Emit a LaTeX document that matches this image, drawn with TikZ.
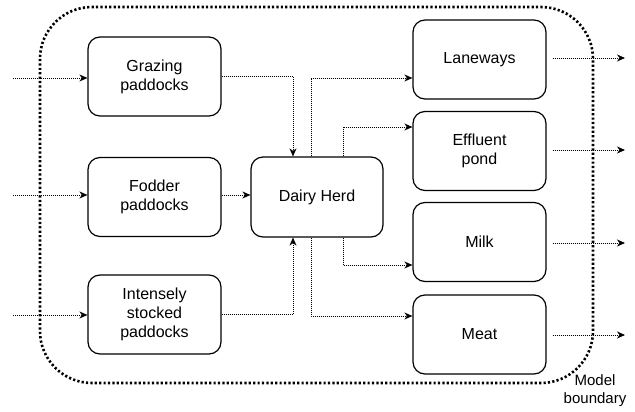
\documentclass[tikz,border=0pt]{standalone}
\usepackage{fontspec}
\setmainfont{Liberation Sans}
\usetikzlibrary{arrows.meta}
\begin{document}
\begin{tikzpicture}[x=1pt,y=-1pt,
  box/.style={draw,line width=1.2pt,rounded corners=12pt,minimum width=133pt,minimum height=79pt,align=center,inner sep=0pt,font=\fontsize{16pt}{19.2pt}\selectfont},
  arr/.style={line width=0.9pt,dash pattern=on 1pt off 1pt,-{Stealth[length=8pt,width=7pt,inset=2.5pt]}},
  bound/.style={line width=2.6pt,dash pattern=on 2.2pt off 2.2pt,rounded corners=52pt}]
\useasboundingbox (0,0) rectangle (635,412);
\draw[bound] (40,7) rectangle (593,383);
\node[box] (graz) at (154.5,76.5) {Grazing\\paddocks};
\node[box] (fodd) at (154.5,197) {Fodder\\paddocks};
\node[box] (inte) at (154.5,314.5) {Intensely\\stocked\\paddocks};
\node[box,minimum width=132pt,minimum height=80pt] (dairy) at (317,197) {Dairy Herd};
\node[box] (lane) at (479.5,59.5) {Laneways};
\node[box] (effl) at (479.5,151) {Effluent\\pond};
\node[box] (milk) at (479.5,242) {Milk};
\node[box] (meat) at (479.5,334.5) {Meat};
\node[align=center,font=\fontsize{15pt}{18pt}\selectfont,inner sep=0pt] (lbl) at (595,391) {Model\\boundary};
% inputs
\coordinate (i1) at (13,78);
\coordinate (i2) at (13,195);
\coordinate (i3) at (13,315);
\draw[arr] (i1) -- (graz.west |- i1);
\draw[arr] (i2) -- (fodd.west |- i2);
\draw[arr] (i3) -- (inte.west |- i3);
% to dairy
\draw[arr] (graz.east) -| ([xshift=-24pt]dairy.north);
\draw[arr] (fodd.east |- i2) -- (dairy.west |- i2);
\draw[arr] (inte.east) -| ([xshift=-24pt]dairy.south);
% from dairy
\draw[arr] ([xshift=-6pt]dairy.north) |- ([yshift=-18.5pt]lane.west);
\draw[arr] ([xshift=26pt]dairy.north) |- ([yshift=24pt]effl.west);
\draw[arr] ([xshift=26pt]dairy.south) |- ([yshift=-23pt]milk.west);
\draw[arr] ([xshift=-6pt]dairy.south) |- ([yshift=18.5pt]meat.west);
% outputs
\coordinate (o1) at (625,58);
\coordinate (o2) at (625,150);
\coordinate (o3) at (625,243);
\coordinate (o4) at (625,335);
\draw[arr] ([xshift=6pt]lane.east |- o1) -- (o1);
\draw[arr] ([xshift=6pt]effl.east |- o2) -- (o2);
\draw[arr] ([xshift=6pt]milk.east |- o3) -- (o3);
\draw[arr] ([xshift=6pt]meat.east |- o4) -- (o4);
\end{tikzpicture}
\end{document}
